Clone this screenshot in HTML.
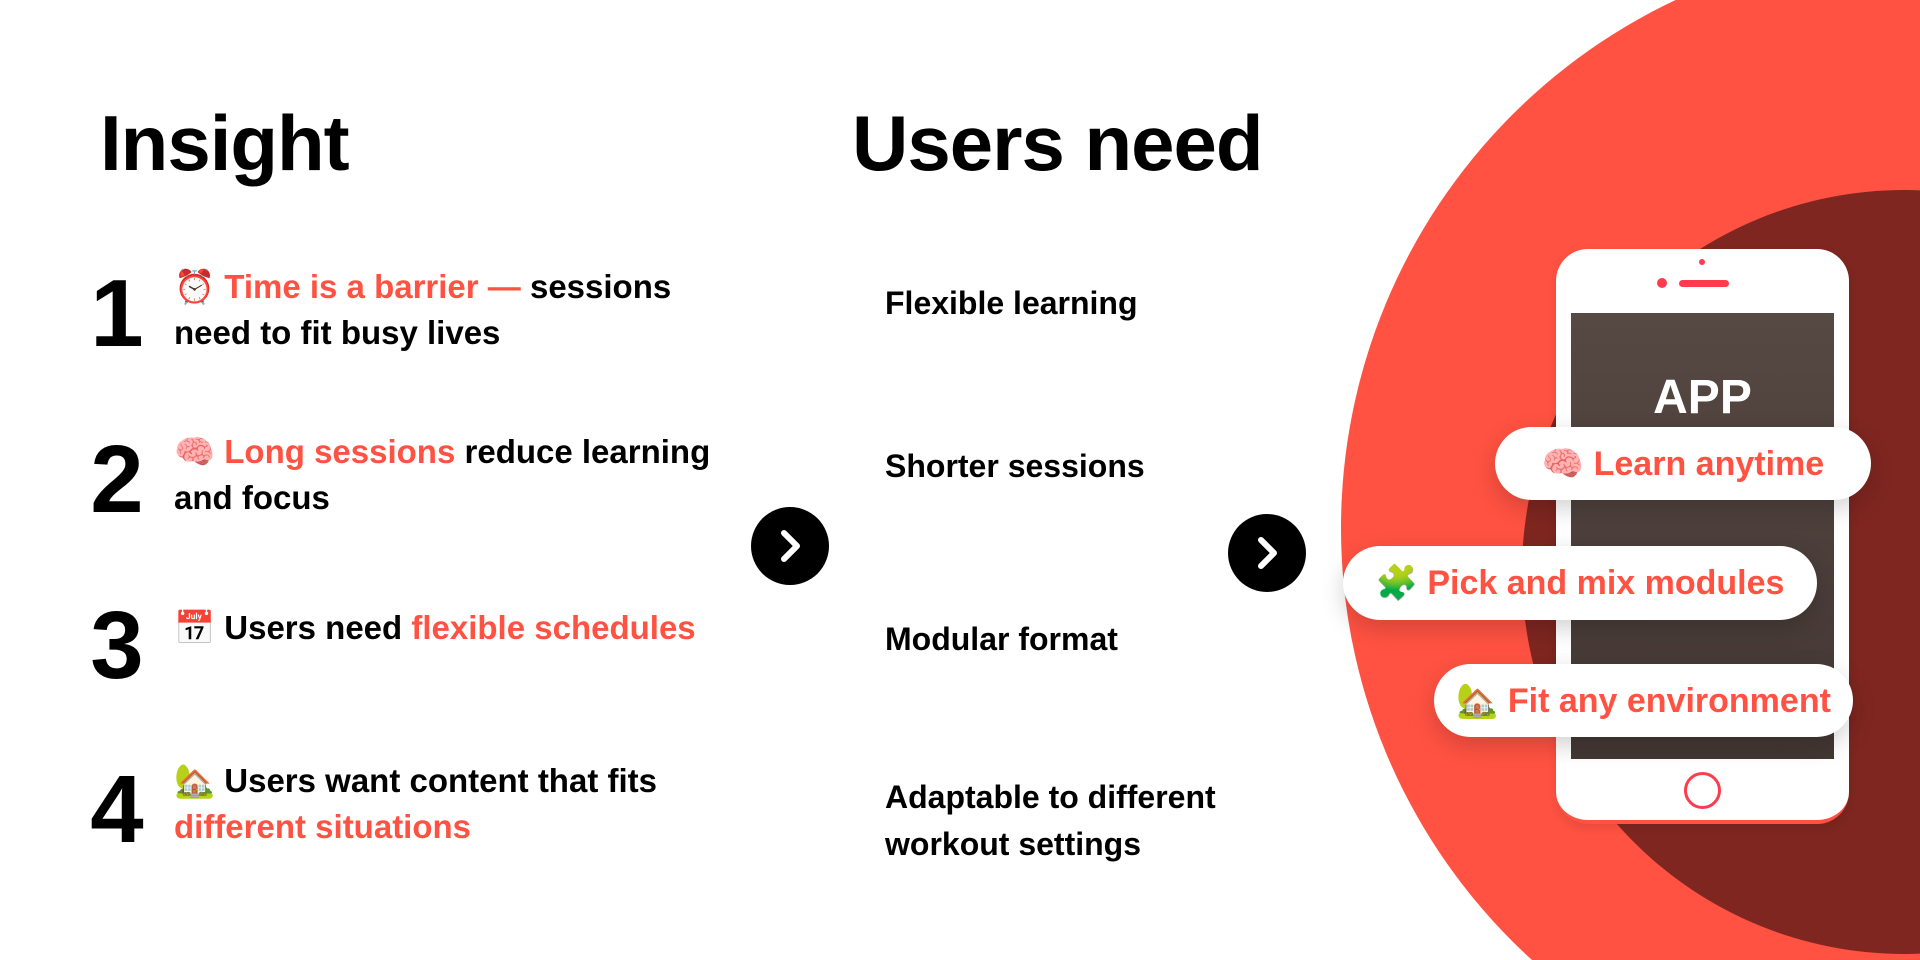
<!DOCTYPE html>
<html style="overflow:hidden;width:1920px;height:960px"><head><meta charset="utf-8"><style>
*{margin:0;padding:0;box-sizing:border-box}
body{width:1920px;height:960px;overflow:hidden;background:#fff;position:relative;font-family:"Liberation Sans","DejaVu Sans",sans-serif;font-weight:700;color:#000}
.a{position:absolute;white-space:nowrap}
.r{color:#FF5242}
.h{font-size:78px;letter-spacing:-1px}
.num{font-size:96px;line-height:1;text-align:center;width:70px}
.it{font-size:33px;line-height:46px}
.un{font-size:32px;line-height:47px}
.arrow{position:absolute;width:78px;height:78px;border-radius:50%;background:#000}
.pill{position:absolute;background:#fff;border-radius:37px;box-shadow:0 8px 24px rgba(0,0,0,.18);color:#FF5242;font-size:34px;display:flex;align-items:center;justify-content:center;white-space:nowrap}
</style></head><body>
<div style="position:absolute;left:0;top:0;width:1920px;height:960px;overflow:hidden">
<div style="position:absolute;left:1341px;top:-56px;width:1168px;height:1168px;border-radius:50%;background:#FF5242"></div>
<div style="position:absolute;left:1522px;top:190px;width:764px;height:764px;border-radius:50%;background:#7F2620"></div>
</div>

<div class="a h" style="left:100px;top:98px">Insight</div>
<div class="a h" style="left:852px;top:98px">Users need</div>

<div class="a num" style="left:82px;top:266px">1</div>
<div class="a num" style="left:82px;top:432px">2</div>
<div class="a num" style="left:82px;top:598px">3</div>
<div class="a num" style="left:82px;top:762px">4</div>

<div class="a it" style="left:174px;top:264px">⏰ <span class="r">Time is a barrier —</span> sessions<br>need to fit busy lives</div>
<div class="a it" style="left:174px;top:429px">🧠 <span class="r">Long sessions</span> reduce learning<br>and focus</div>
<div class="a it" style="left:174px;top:605px">📅 Users need <span class="r">flexible schedules</span></div>
<div class="a it" style="left:174px;top:758px">🏡 Users want content that fits<br><span class="r">different situations</span></div>

<div class="a un" style="left:885px;top:280px">Flexible learning</div>
<div class="a un" style="left:885px;top:443px">Shorter sessions</div>
<div class="a un" style="left:885px;top:616px">Modular format</div>
<div class="a un" style="left:885px;top:774px">Adaptable to different<br>workout settings</div>

<div class="arrow" style="left:751px;top:507px"><svg width="78" height="78"><polyline points="33,26 46,39 33,52" fill="none" stroke="#fff" stroke-width="6" stroke-linecap="round" stroke-linejoin="round"/></svg></div>
<div class="arrow" style="left:1228px;top:514px"><svg width="78" height="78"><polyline points="33,26 46,39 33,52" fill="none" stroke="#fff" stroke-width="6" stroke-linecap="round" stroke-linejoin="round"/></svg></div>

<div style="position:absolute;left:1556px;top:249px;width:293px;height:575px;border-radius:32px;background:#fff;border-bottom:4px solid #FF5242;box-shadow:0 4px 10px rgba(0,0,0,.1)"></div>
<div style="position:absolute;left:1571px;top:313px;width:263px;height:446px;background:linear-gradient(#564842,#433734)"></div>
<div style="position:absolute;left:1657px;top:278px;width:10px;height:10px;border-radius:50%;background:#FF3B4E"></div>
<div style="position:absolute;left:1679px;top:280px;width:50px;height:7px;border-radius:4px;background:#FF3B4E"></div>
<div style="position:absolute;left:1699px;top:259px;width:6px;height:6px;border-radius:50%;background:#FF3B4E"></div>
<div style="position:absolute;left:1684px;top:772px;width:37px;height:37px;border-radius:50%;border:3px solid #FF3B4E"></div>
<div class="a" style="left:1571px;width:263px;text-align:center;top:370px;font-size:48px;color:#fff">APP</div>

<div class="pill" style="left:1495px;top:427px;width:376px;height:73px">🧠 Learn anytime</div>
<div class="pill" style="left:1343px;top:546px;width:474px;height:74px">🧩 Pick and mix modules</div>
<div class="pill" style="left:1434px;top:664px;width:419px;height:73px">🏡 Fit any environment</div>
</body></html>
